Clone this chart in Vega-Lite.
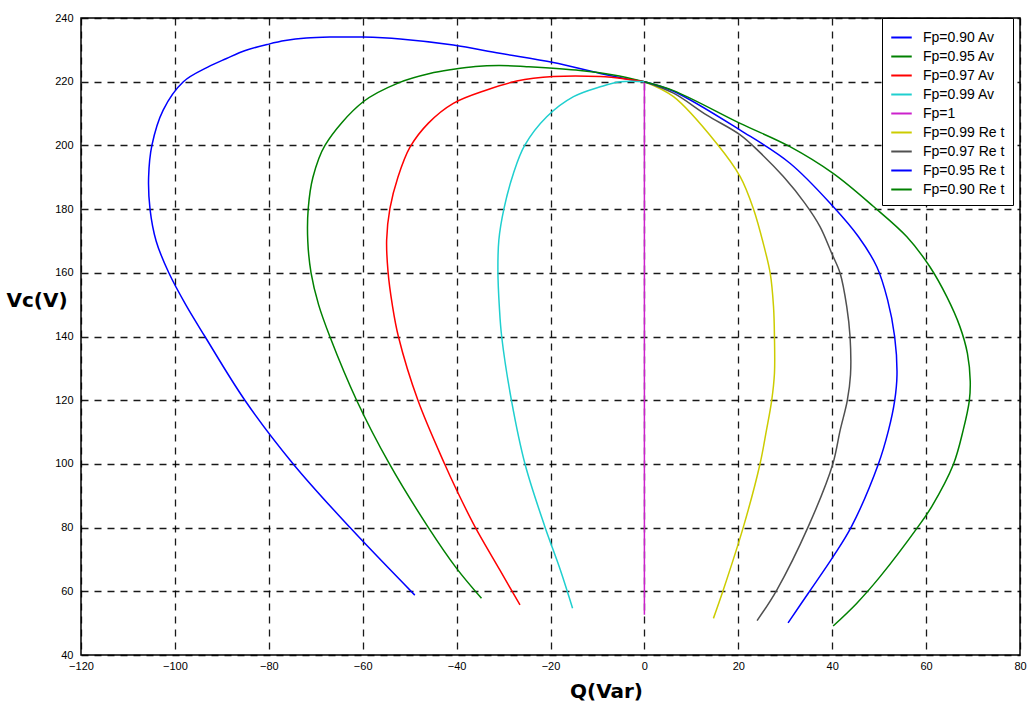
{
  "$schema": "https://vega.github.io/schema/vega-lite/v6.json",
  "width": 939,
  "height": 637,
  "autosize": "none",
  "padding": {"left": 81, "top": 18, "right": 13, "bottom": 50},
  "background": "white",
  "config": {
    "view": {"stroke": "black", "strokeWidth": 1.5},
    "font": "Liberation Sans"
  },
  "data": {"values": [
    {"s":"Fp=0.90 Av","i":0,"q":0,"v":220},{"s":"Fp=0.90 Av","i":1,"q":-2.3,"v":220.5},{"s":"Fp=0.90 Av","i":2,"q":-9.4,"v":222.6},{"s":"Fp=0.90 Av","i":3,"q":-19.4,"v":226},{"s":"Fp=0.90 Av","i":4,"q":-30.8,"v":228.9},{"s":"Fp=0.90 Av","i":5,"q":-40.7,"v":231.5},{"s":"Fp=0.90 Av","i":6,"q":-52,"v":233.4},{"s":"Fp=0.90 Av","i":7,"q":-60,"v":234},{"s":"Fp=0.90 Av","i":8,"q":-67,"v":234},{"s":"Fp=0.90 Av","i":9,"q":-72,"v":233.7},{"s":"Fp=0.90 Av","i":10,"q":-76.5,"v":232.9},{"s":"Fp=0.90 Av","i":11,"q":-80,"v":231.8},{"s":"Fp=0.90 Av","i":12,"q":-85,"v":229.8},{"s":"Fp=0.90 Av","i":13,"q":-89,"v":227.3},{"s":"Fp=0.90 Av","i":14,"q":-93,"v":224.6},{"s":"Fp=0.90 Av","i":15,"q":-98.2,"v":220},{"s":"Fp=0.90 Av","i":16,"q":-102.5,"v":211.1},{"s":"Fp=0.90 Av","i":17,"q":-104.9,"v":200},{"s":"Fp=0.90 Av","i":18,"q":-105.6,"v":190},{"s":"Fp=0.90 Av","i":19,"q":-105.3,"v":180},{"s":"Fp=0.90 Av","i":20,"q":-104,"v":170},{"s":"Fp=0.90 Av","i":21,"q":-101.3,"v":160},{"s":"Fp=0.90 Av","i":22,"q":-97.7,"v":150},{"s":"Fp=0.90 Av","i":23,"q":-93.6,"v":140},{"s":"Fp=0.90 Av","i":24,"q":-85.1,"v":120},{"s":"Fp=0.90 Av","i":25,"q":-74.8,"v":100},{"s":"Fp=0.90 Av","i":26,"q":-62.7,"v":80},{"s":"Fp=0.90 Av","i":27,"q":-48.9,"v":58.8},

    {"s":"Fp=0.95 Av","i":0,"q":0,"v":220},{"s":"Fp=0.95 Av","i":1,"q":-6.6,"v":222.1},{"s":"Fp=0.95 Av","i":2,"q":-13.7,"v":223.5},{"s":"Fp=0.95 Av","i":3,"q":-25.1,"v":224.7},{"s":"Fp=0.95 Av","i":4,"q":-30.8,"v":225.1},{"s":"Fp=0.95 Av","i":5,"q":-36,"v":224.8},{"s":"Fp=0.95 Av","i":6,"q":-40.7,"v":223.9},{"s":"Fp=0.95 Av","i":7,"q":-45.7,"v":222.6},{"s":"Fp=0.95 Av","i":8,"q":-52.1,"v":219.8},{"s":"Fp=0.95 Av","i":9,"q":-59.9,"v":213.7},{"s":"Fp=0.95 Av","i":10,"q":-68,"v":200.1},{"s":"Fp=0.95 Av","i":11,"q":-70.6,"v":190},{"s":"Fp=0.95 Av","i":12,"q":-71.6,"v":180.2},{"s":"Fp=0.95 Av","i":13,"q":-71.7,"v":170},{"s":"Fp=0.95 Av","i":14,"q":-71,"v":160},{"s":"Fp=0.95 Av","i":15,"q":-69.4,"v":150},{"s":"Fp=0.95 Av","i":16,"q":-67,"v":140},{"s":"Fp=0.95 Av","i":17,"q":-61.3,"v":120},{"s":"Fp=0.95 Av","i":18,"q":-54.3,"v":100},{"s":"Fp=0.95 Av","i":19,"q":-46,"v":80},{"s":"Fp=0.95 Av","i":20,"q":-40,"v":67.2},{"s":"Fp=0.95 Av","i":21,"q":-34.7,"v":57.8},

    {"s":"Fp=0.97 Av","i":0,"q":0,"v":220},{"s":"Fp=0.97 Av","i":1,"q":-3.7,"v":220.8},{"s":"Fp=0.97 Av","i":2,"q":-9.4,"v":221.6},{"s":"Fp=0.97 Av","i":3,"q":-19.4,"v":221.6},{"s":"Fp=0.97 Av","i":4,"q":-27.2,"v":220.2},{"s":"Fp=0.97 Av","i":5,"q":-33.6,"v":217.4},{"s":"Fp=0.97 Av","i":6,"q":-40.7,"v":213.2},{"s":"Fp=0.97 Av","i":7,"q":-46,"v":207},{"s":"Fp=0.97 Av","i":8,"q":-49.9,"v":199.5},{"s":"Fp=0.97 Av","i":9,"q":-52.5,"v":190},{"s":"Fp=0.97 Av","i":10,"q":-54.2,"v":180.2},{"s":"Fp=0.97 Av","i":11,"q":-54.9,"v":170.3},{"s":"Fp=0.97 Av","i":12,"q":-54.6,"v":160.3},{"s":"Fp=0.97 Av","i":13,"q":-53.7,"v":150},{"s":"Fp=0.97 Av","i":14,"q":-52.4,"v":140},{"s":"Fp=0.97 Av","i":15,"q":-48.2,"v":119.8},{"s":"Fp=0.97 Av","i":16,"q":-42.5,"v":99.8},{"s":"Fp=0.97 Av","i":17,"q":-40,"v":91.8},{"s":"Fp=0.97 Av","i":18,"q":-36.1,"v":80.3},{"s":"Fp=0.97 Av","i":19,"q":-30.8,"v":66.7},{"s":"Fp=0.97 Av","i":20,"q":-26.5,"v":55.7},

    {"s":"Fp=0.99 Av","i":0,"q":0,"v":220},{"s":"Fp=0.99 Av","i":1,"q":-5.1,"v":220},{"s":"Fp=0.99 Av","i":2,"q":-9.4,"v":218.4},{"s":"Fp=0.99 Av","i":3,"q":-15.1,"v":215.3},{"s":"Fp=0.99 Av","i":4,"q":-20.8,"v":209},{"s":"Fp=0.99 Av","i":5,"q":-25.5,"v":200},{"s":"Fp=0.99 Av","i":6,"q":-27.9,"v":191.2},{"s":"Fp=0.99 Av","i":7,"q":-29.9,"v":180.2},{"s":"Fp=0.99 Av","i":8,"q":-31,"v":170.3},{"s":"Fp=0.99 Av","i":9,"q":-31.2,"v":160.3},{"s":"Fp=0.99 Av","i":10,"q":-30.9,"v":149.4},{"s":"Fp=0.99 Av","i":11,"q":-30.4,"v":140},{"s":"Fp=0.99 Av","i":12,"q":-28.3,"v":119.8},{"s":"Fp=0.99 Av","i":13,"q":-25.4,"v":99.8},{"s":"Fp=0.99 Av","i":14,"q":-21.2,"v":80.3},{"s":"Fp=0.99 Av","i":15,"q":-17.9,"v":66.7},{"s":"Fp=0.99 Av","i":16,"q":-15.3,"v":54.7},

    {"s":"Fp=1","i":0,"q":0,"v":220},{"s":"Fp=1","i":1,"q":0,"v":52.6},

    {"s":"Fp=0.99 Re t","i":0,"q":0,"v":220},{"s":"Fp=0.99 Re t","i":1,"q":6.2,"v":215.3},{"s":"Fp=0.99 Re t","i":2,"q":15.4,"v":200.6},{"s":"Fp=0.99 Re t","i":3,"q":20.4,"v":190.2},{"s":"Fp=0.99 Re t","i":4,"q":23.2,"v":180.2},{"s":"Fp=0.99 Re t","i":5,"q":25.5,"v":168.2},{"s":"Fp=0.99 Re t","i":6,"q":26.8,"v":159.8},{"s":"Fp=0.99 Re t","i":7,"q":27.5,"v":149.4},{"s":"Fp=0.99 Re t","i":8,"q":27.7,"v":140},{"s":"Fp=0.99 Re t","i":9,"q":27.7,"v":128.4},{"s":"Fp=0.99 Re t","i":10,"q":27.1,"v":119.8},{"s":"Fp=0.99 Re t","i":11,"q":26,"v":110.6},{"s":"Fp=0.99 Re t","i":12,"q":24.6,"v":99.8},{"s":"Fp=0.99 Re t","i":13,"q":21.1,"v":80.3},{"s":"Fp=0.99 Re t","i":14,"q":16.8,"v":60.4},{"s":"Fp=0.99 Re t","i":15,"q":14.7,"v":51.5},

    {"s":"Fp=0.97 Re t","i":0,"q":0,"v":220},{"s":"Fp=0.97 Re t","i":1,"q":6.2,"v":216.4},{"s":"Fp=0.97 Re t","i":2,"q":13.3,"v":209.5},{"s":"Fp=0.97 Re t","i":3,"q":20.4,"v":203.3},{"s":"Fp=0.97 Re t","i":4,"q":24.6,"v":197.8},{"s":"Fp=0.97 Re t","i":5,"q":29.6,"v":190.2},{"s":"Fp=0.97 Re t","i":6,"q":34.2,"v":181.8},{"s":"Fp=0.97 Re t","i":7,"q":37.4,"v":174.5},{"s":"Fp=0.97 Re t","i":8,"q":39.9,"v":166.1},{"s":"Fp=0.97 Re t","i":9,"q":41.7,"v":159.8},{"s":"Fp=0.97 Re t","i":10,"q":43.1,"v":149.4},{"s":"Fp=0.97 Re t","i":11,"q":43.8,"v":140},{"s":"Fp=0.97 Re t","i":12,"q":43.9,"v":128},{"s":"Fp=0.97 Re t","i":13,"q":43.2,"v":119.8},{"s":"Fp=0.97 Re t","i":14,"q":41.7,"v":110.6},{"s":"Fp=0.97 Re t","i":15,"q":40.1,"v":99.8},{"s":"Fp=0.97 Re t","i":16,"q":34.9,"v":80.3},{"s":"Fp=0.97 Re t","i":17,"q":28.2,"v":60.4},{"s":"Fp=0.97 Re t","i":18,"q":24,"v":50.8},

    {"s":"Fp=0.95 Re t","i":0,"q":0,"v":220},{"s":"Fp=0.95 Re t","i":1,"q":6.2,"v":217},{"s":"Fp=0.95 Re t","i":2,"q":20.4,"v":204.8},{"s":"Fp=0.95 Re t","i":3,"q":31,"v":194.4},{"s":"Fp=0.95 Re t","i":4,"q":40.2,"v":180.8},{"s":"Fp=0.95 Re t","i":5,"q":45.6,"v":171.3},{"s":"Fp=0.95 Re t","i":6,"q":49.5,"v":161.9},{"s":"Fp=0.95 Re t","i":7,"q":51.8,"v":151.5},{"s":"Fp=0.95 Re t","i":8,"q":53.3,"v":140},{"s":"Fp=0.95 Re t","i":9,"q":53.8,"v":128},{"s":"Fp=0.95 Re t","i":10,"q":53.3,"v":119.8},{"s":"Fp=0.95 Re t","i":11,"q":52,"v":110.6},{"s":"Fp=0.95 Re t","i":12,"q":49.8,"v":99.8},{"s":"Fp=0.95 Re t","i":13,"q":44.1,"v":80.3},{"s":"Fp=0.95 Re t","i":14,"q":40.2,"v":70.9},{"s":"Fp=0.95 Re t","i":15,"q":34.9,"v":59.4},{"s":"Fp=0.95 Re t","i":16,"q":30.6,"v":50.1},

    {"s":"Fp=0.90 Re t","i":0,"q":0,"v":220},{"s":"Fp=0.90 Re t","i":1,"q":6.2,"v":217.2},{"s":"Fp=0.90 Re t","i":2,"q":20.4,"v":206.9},{"s":"Fp=0.90 Re t","i":3,"q":31,"v":199.6},{"s":"Fp=0.90 Re t","i":4,"q":40.2,"v":191.2},{"s":"Fp=0.90 Re t","i":5,"q":48.8,"v":180.8},{"s":"Fp=0.90 Re t","i":6,"q":55.9,"v":171.3},{"s":"Fp=0.90 Re t","i":7,"q":60.8,"v":161.9},{"s":"Fp=0.90 Re t","i":8,"q":64.4,"v":152.5},{"s":"Fp=0.90 Re t","i":9,"q":67.2,"v":143.1},{"s":"Fp=0.90 Re t","i":10,"q":68.8,"v":134.7},{"s":"Fp=0.90 Re t","i":11,"q":69.4,"v":126},{"s":"Fp=0.90 Re t","i":12,"q":69.2,"v":119.8},{"s":"Fp=0.90 Re t","i":13,"q":67.9,"v":110.6},{"s":"Fp=0.90 Re t","i":14,"q":65.8,"v":99.8},{"s":"Fp=0.90 Re t","i":15,"q":61.2,"v":86.6},{"s":"Fp=0.90 Re t","i":16,"q":58.3,"v":80.3},{"s":"Fp=0.90 Re t","i":17,"q":50.2,"v":64.6},{"s":"Fp=0.90 Re t","i":18,"q":45.2,"v":56.2},{"s":"Fp=0.90 Re t","i":19,"q":40.2,"v":49.1}
  ]},
  "mark": {"type": "line", "strokeWidth": 1.5, "interpolate": "catmull-rom"},
  "encoding": {
    "x": {
      "field": "q", "type": "quantitative",
      "scale": {"domain": [-120, 80], "nice": false, "zero": false},
      "axis": {
        "values": [-120, -100, -80, -60, -40, -20, 0, 20, 40, 60, 80],
        "title": "Q(Var)",
        "titleFont": "DejaVu Sans", "titleFontWeight": "bold", "titleFontSize": 20, "titleColor": "black",
        "titleX": 525, "titleY": 36, "titleAlign": "center", "titleBaseline": "middle",
        "labelFont": "Liberation Sans", "labelFontSize": 11, "labelColor": "black", "labelPadding": 5,
        "labelFlush": false,
        "domain": false, "ticks": false,
        "grid": true, "gridColor": "black", "gridDash": [7, 6], "gridWidth": 1.3, "gridOpacity": 0.9
      }
    },
    "y": {
      "field": "v", "type": "quantitative",
      "scale": {"domain": [40, 240], "nice": false, "zero": false},
      "axis": {
        "values": [40, 60, 80, 100, 120, 140, 160, 180, 200, 220, 240],
        "title": "Vc(V)",
        "titleFont": "DejaVu Sans", "titleFontWeight": "bold", "titleFontSize": 20, "titleColor": "black",
        "titleAngle": 0, "titleX": -75, "titleY": 282, "titleAlign": "left", "titleBaseline": "middle",
        "labelFont": "Liberation Sans", "labelFontSize": 11, "labelColor": "black", "labelPadding": 8,
        "labelFlush": false,
        "domain": false, "ticks": false,
        "grid": true, "gridColor": "black", "gridDash": [7, 6], "gridWidth": 1.3, "gridOpacity": 0.9
      }
    },
    "color": {
      "field": "s", "type": "nominal",
      "scale": {
        "domain": ["Fp=0.90 Av", "Fp=0.95 Av", "Fp=0.97 Av", "Fp=0.99 Av", "Fp=1", "Fp=0.99 Re t", "Fp=0.97 Re t", "Fp=0.95 Re t", "Fp=0.90 Re t"],
        "range": ["#0000FF", "#008000", "#FF0000", "#1FCFCF", "#CC22CC", "#CCCC00", "#505050", "#0000FF", "#008000"]
      },
      "legend": {
        "title": null,
        "orient": "none", "legendX": 801, "legendY": 0,
        "fillColor": "white", "strokeColor": "black",
        "padding": 8,
        "symbolType": "stroke", "symbolSize": 420, "symbolStrokeWidth": 2,
        "labelFont": "Liberation Sans", "labelFontSize": 14, "labelColor": "black", "labelOffset": 10,
        "rowPadding": 0
      }
    },
    "order": {"field": "i", "type": "quantitative"}
  }
}
